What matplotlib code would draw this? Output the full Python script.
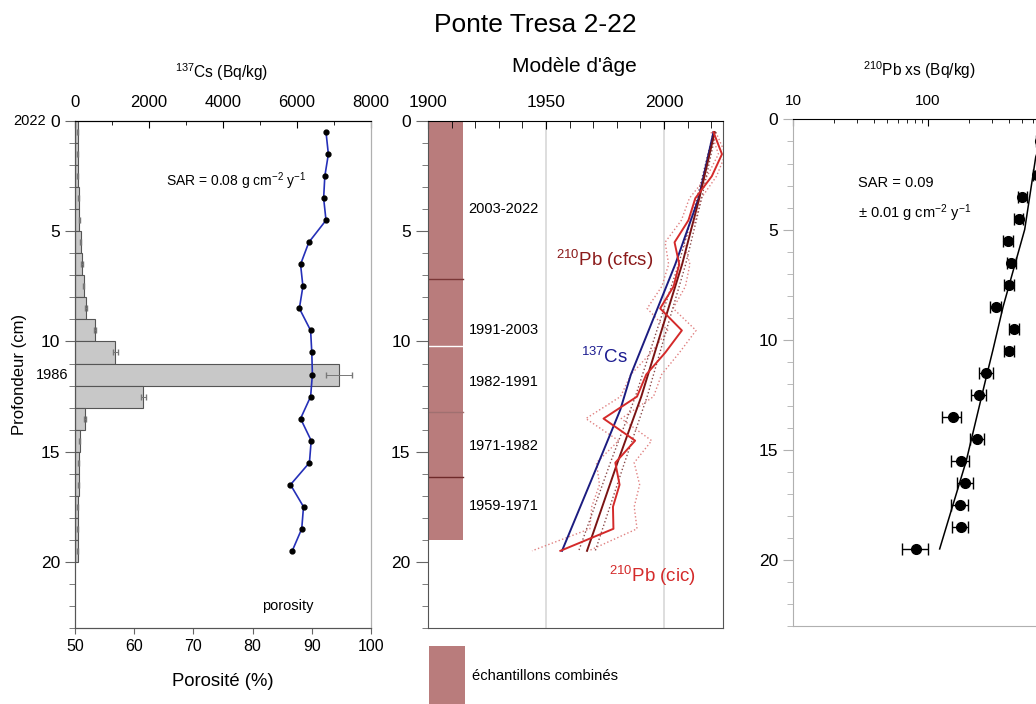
import numpy as np
import matplotlib
matplotlib.use('Agg')
import matplotlib.pyplot as plt
from matplotlib.patches import Rectangle
from matplotlib.ticker import MultipleLocator, LogLocator, NullFormatter, FixedLocator, FuncFormatter

plt.rcParams['font.family'] = ['Liberation Sans', 'DejaVu Sans']
plt.rcParams['mathtext.default'] = 'regular'

# ---- donnees 137Cs / porosite ----
cs_top = [0, 1, 2, 3, 4, 5, 6, 7, 8, 9, 10, 11, 12, 13, 14, 15, 16, 17, 18, 19]
cs_val = [70, 70, 70, 100, 117, 160, 190, 235, 300, 540, 1090, 7140, 1850, 260, 125, 100, 100, 70, 70, 70]
cs_err = [10, 10, 10, 15, 15, 15, 20, 20, 30, 40, 60, 350, 60, 25, 15, 10, 10, 10, 10, 10]

por_depth = [0.5, 1.5, 2.5, 3.5, 4.5, 5.5, 6.5, 7.5, 8.5, 9.5, 10.5, 11.5, 12.5, 13.5, 14.5, 15.5, 16.5, 17.5, 18.5, 19.5]
por_val = [92.4, 92.8, 92.2, 92.0, 92.4, 89.5, 88.1, 88.5, 87.9, 89.8, 90.0, 90.1, 89.8, 88.1, 89.9, 89.6, 86.4, 88.6, 88.3, 86.7]

# ---- modele d'age ----
cic_depth = [0.5, 1.5, 2.5, 3.5, 4.5, 5.5, 6.5, 7.5, 8.5, 9.5, 10.5, 11.5, 12.5, 13.5, 14.5, 15.5, 16.5, 17.5, 18.5, 19.5]
cic_year = [2021.0, 2024.6, 2020.3, 2013.3, 2010.4, 2004.5, 2006.5, 2004.1, 1998.4, 2007.6, 2000.6, 1992.5, 1988.6, 1974.4, 1987.8, 1979.4, 1981.2, 1978.4, 1978.6, 1956.1]
cic_err = [1, 1.5, 2, 2.5, 3, 4, 4.5, 5, 5.5, 6, 6, 6.5, 7, 7.5, 7, 8, 8.5, 9, 10, 12]

cfcs_depth = [0.5, 3.5, 6.5, 9.5, 12.5, 15.5, 19.5]
cfcs_year = [2021.5, 2015.0, 2007.7, 1999.0, 1990.4, 1980.3, 1967.4]
cfcs_err = [0.5, 1.0, 1.5, 2.0, 2.5, 3.0, 3.5]

cs137_depth = [0.5, 3.5, 6.5, 11.5, 13.1, 15.5, 19.5]
cs137_year = [2021.0, 2014.7, 2004.8, 1986.0, 1981.5, 1972.3, 1956.8]

combi_limits = [0, 7.15, 10.2, 13.2, 16.15, 19.0]
combi_lines = ['#7a3636', 'white', '#a07070', '#6e2a2a']
combi_labels = ['2003-2022', '1991-2003', '1982-1991', '1971-1982', '1959-1971']
combi_label_depth = [4.0, 9.5, 11.85, 14.75, 17.45]

# ---- 210Pb xs ----
pb_depth = [1.0, 2.5, 3.5, 4.5, 5.5, 6.5, 7.5, 8.5, 9.5, 10.5, 11.5, 12.5, 13.5, 14.5, 15.5, 16.5, 17.5, 18.5, 19.5]
pb_val = [680, 640, 500, 472, 392, 415, 398, 317, 434, 398, 271, 239, 152, 232, 175, 189, 172, 175, 82]
pb_err = [50, 45, 38, 35, 32, 33, 34, 30, 34, 33, 34, 30, 25, 28, 26, 26, 25, 24, 18]
fit_depth = [1.0, 1.7, 5.0, 8.5, 10.45, 11.66, 15.5, 19.5]
fit_val = [690, 628, 520, 360, 303, 271, 192, 122]

rose = '#b97c7c'
gris = '#666666'
gris_clair = '#b0b0b0'

W, H = 1036.0, 704.0

def px(x, y):
    # position en pixels -> coordonnees figure
    return x / W, 1 - y / H

fig = plt.figure(figsize=(10.36, 7.04), dpi=100)
fig.text(*px(535, 25), 'Ponte Tresa 2-22', ha='center', va='center', fontsize=19)

# ================= panneau gauche =================
ax_cs = fig.add_axes([0.0724, 0.108, 0.2857, 0.720])
ax_por = ax_cs.twiny()

ax_cs.barh(np.array(cs_top) + 0.5, cs_val, height=1.0, color='#c8c8c8',
           edgecolor='#555555', linewidth=0.8, xerr=cs_err,
           error_kw=dict(ecolor='#777777', elinewidth=0.7, capsize=2.5))
ax_cs.set_xlim(0, 8000)
ax_cs.set_ylim(23, 0)
ax_cs.xaxis.tick_top()
ax_cs.set_xticks([0, 2000, 4000, 6000, 8000])
ax_cs.xaxis.set_minor_locator(MultipleLocator(1000))
ax_cs.tick_params(axis='x', which='both', direction='in', labelsize=12, pad=8)
ax_cs.tick_params(axis='x', which='major', length=5)
ax_cs.tick_params(axis='x', which='minor', length=3)
ax_cs.set_yticks([0, 5, 10, 15, 20])
ax_cs.yaxis.set_minor_locator(MultipleLocator(1))
ax_cs.tick_params(axis='y', which='major', length=7, labelsize=12.5, color=gris)
ax_cs.tick_params(axis='y', which='minor', length=4, color=gris)
ax_cs.text(-0.1, 0, '2022', transform=ax_cs.get_yaxis_transform(), ha='right', va='center', fontsize=10.5)
ax_cs.text(-0.024, 11.5, '1986', transform=ax_cs.get_yaxis_transform(), ha='right', va='center', fontsize=10.5)
fig.text(*px(222, 72), '$^{137}$Cs (Bq/kg)', ha='center', va='center', fontsize=11.2)
fig.text(*px(20, 374), 'Profondeur (cm)', ha='center', va='center', rotation=90, fontsize=12)

ax_por.plot(por_val, por_depth, color='#2530b8', linewidth=1.2, marker='o',
            markersize=3.5, markerfacecolor='black', markeredgecolor='black')
ax_por.set_xlim(50, 100)
ax_por.set_ylim(23, 0)
ax_por.xaxis.tick_bottom()
ax_por.set_xticks([50, 60, 70, 80, 90, 100])
ax_por.tick_params(axis='x', direction='out', length=4, labelsize=11.5, color=gris, pad=4)
fig.text(*px(223, 682), 'Porosité (%)', ha='center', va='center', fontsize=13.3)
ax_por.text(77.3, 2.75, 'SAR = 0.08 g cm$^{-2}$ y$^{-1}$', ha='center', va='center', fontsize=10)
ax_por.text(85.9, 22.0, 'porosity', ha='center', va='center', fontsize=10.5)

for a in (ax_cs, ax_por):
    a.spines['top'].set_color('black')
    a.spines['left'].set_color('#555555')
    a.spines['bottom'].set_color('#555555')
    a.spines['right'].set_color(gris_clair)

# ================= panneau central =================
ax_age = fig.add_axes([0.4131, 0.108, 0.2847, 0.720])
ax_age.set_xlim(1900, 2025)
ax_age.set_ylim(23, 0)
ax_age.axvline(1950, color='#d8d8d8', linewidth=1.2, zorder=0)
ax_age.axvline(2000, color='#d8d8d8', linewidth=1.2, zorder=0)

ax_age.add_patch(Rectangle((1900, 0), 15, combi_limits[-1], facecolor=rose, edgecolor='none', zorder=1))
for lim, col in zip(combi_limits[1:-1], combi_lines):
    ax_age.plot([1900, 1915], [lim, lim], color=col, linewidth=1.0, zorder=2)
for lab, d in zip(combi_labels, combi_label_depth):
    ax_age.text(1917.2, d, lab, ha='left', va='center', fontsize=10.5)

cic_y = np.array(cic_year)
cic_e = np.array(cic_err)
ax_age.plot(cic_y - cic_e, cic_depth, color='#e08080', linestyle=':', linewidth=1.0)
ax_age.plot(cic_y + cic_e, cic_depth, color='#e08080', linestyle=':', linewidth=1.0)
cf_y = np.array(cfcs_year)
cf_e = np.array(cfcs_err)
ax_age.plot(cf_y - cf_e, cfcs_depth, color='#8a4a4a', linestyle=':', linewidth=1.0)
ax_age.plot(cf_y + cf_e, cfcs_depth, color='#8a4a4a', linestyle=':', linewidth=1.0)

ax_age.plot(cs137_year, cs137_depth, color='#1c1c80', linewidth=1.4)
ax_age.plot(cfcs_year, cfcs_depth, color='#7a1414', linewidth=1.4)
ax_age.plot(cic_year, cic_depth, color='#d42a2a', linewidth=1.4)

ax_age.text(1975.1, 6.3, '$^{210}$Pb (cfcs)', color='#8b1a1a', ha='center', va='center', fontsize=13.5)
ax_age.text(1974.7, 10.7, '$^{137}$Cs', color='#1c1c90', ha='center', va='center', fontsize=13.5)
ax_age.text(1995.3, 20.65, '$^{210}$Pb (cic)', color='#d42a2a', ha='center', va='center', fontsize=13.5)

ax_age.xaxis.tick_top()
ax_age.set_xticks([1900, 1950, 2000])
ax_age.xaxis.set_minor_locator(MultipleLocator(10))
ax_age.tick_params(axis='x', which='both', direction='in', labelsize=12.5, pad=8)
ax_age.tick_params(axis='x', which='major', length=6)
ax_age.tick_params(axis='x', which='minor', length=5)
fig.text(*px(574, 67), "Modèle d'âge", ha='center', va='center', fontsize=15)
ax_age.set_yticks([0, 5, 10, 15, 20])
ax_age.yaxis.set_minor_locator(MultipleLocator(1))
ax_age.tick_params(axis='y', which='major', length=9, labelsize=12.5, color=gris)
ax_age.tick_params(axis='y', which='minor', length=4, color=gris)
for s in ('left', 'bottom', 'right'):
    ax_age.spines[s].set_color('#555555')

# legende echantillons combines
ax_age.add_patch(Rectangle((1900.5, 23.8), 15, 3.5, facecolor=rose, edgecolor='none', clip_on=False))
ax_age.text(1918.5, 25.2, 'échantillons combinés', ha='left', va='center', fontsize=10.6)

# ================= panneau droit =================
ax_pb = fig.add_axes([0.7654, 0.1108, 0.2873, 0.7195])
ax_pb.errorbar(pb_val, pb_depth, xerr=pb_err, fmt='o', color='black', markersize=7,
               elinewidth=1.0, capsize=4, capthick=1.0)
ax_pb.plot(fit_val, fit_depth, color='black', linewidth=1.1)
ax_pb.set_xscale('log')
ax_pb.set_xlim(10, 1600)
ax_pb.set_ylim(23, 0)
ax_pb.xaxis.tick_top()
ax_pb.xaxis.set_major_locator(FixedLocator([10, 100]))
ax_pb.xaxis.set_major_formatter(FuncFormatter(lambda v, p: '%d' % v))
ax_pb.xaxis.set_minor_locator(LogLocator(base=10, subs=np.arange(2, 10)))
ax_pb.xaxis.set_minor_formatter(NullFormatter())
ax_pb.tick_params(axis='x', which='both', direction='in', labelsize=11, pad=8)
ax_pb.tick_params(axis='x', which='major', length=5)
ax_pb.tick_params(axis='x', which='minor', length=3)
fig.text(*px(919, 70), '$^{210}$Pb xs (Bq/kg)', ha='center', va='center', fontsize=11.2)
ax_pb.set_yticks([0, 5, 10, 15, 20])
ax_pb.yaxis.set_minor_locator(MultipleLocator(1))
ax_pb.tick_params(axis='y', which='major', length=7, labelsize=12.5, color=gris_clair)
ax_pb.tick_params(axis='y', which='minor', length=4, color=gris_clair)
ax_pb.spines['left'].set_color(gris_clair)
ax_pb.spines['bottom'].set_color(gris_clair)
ax_pb.spines['right'].set_visible(False)
ax_pb.text(30.2, 2.9, 'SAR = 0.09', ha='left', va='center', fontsize=10.5)
ax_pb.text(30.2, 4.25, '± 0.01 g cm$^{-2}$ y$^{-1}$', ha='left', va='center', fontsize=10.5)

fig.savefig('out.png', dpi=100)
